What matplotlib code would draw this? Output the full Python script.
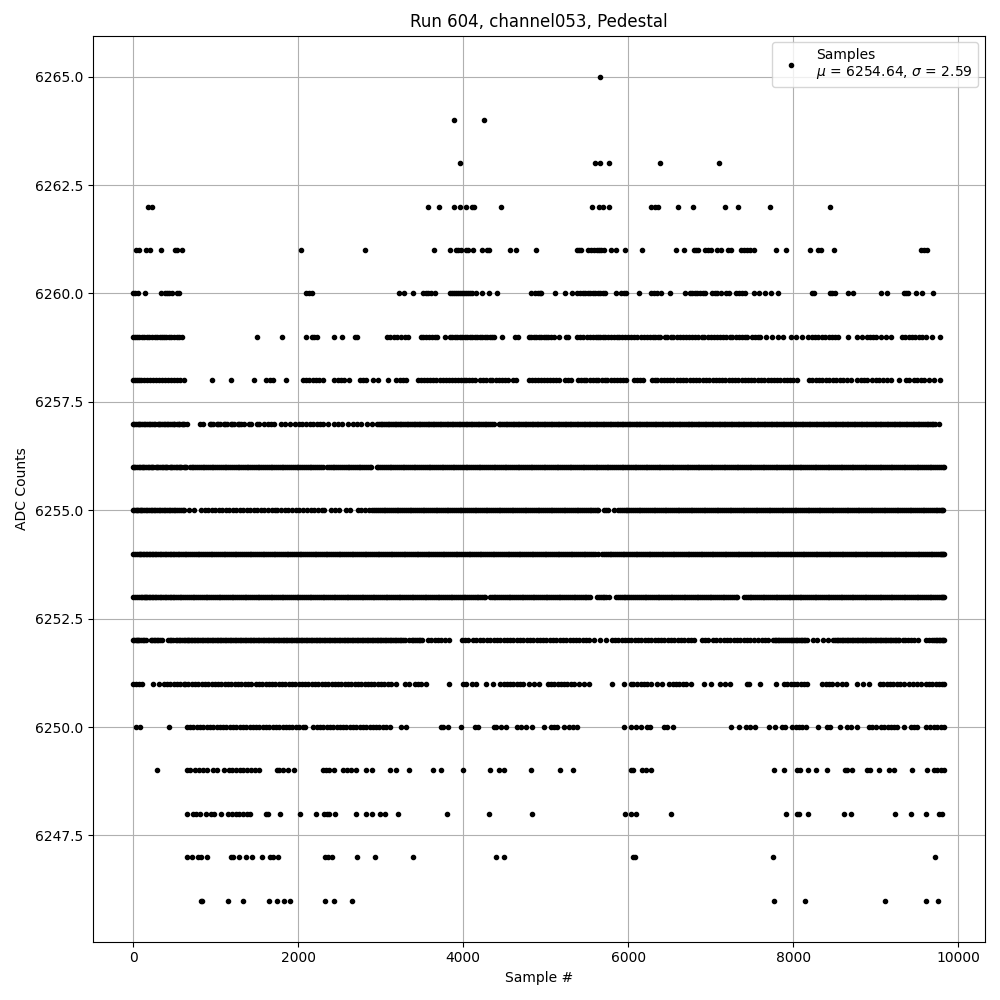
import matplotlib
matplotlib.use("Agg")
import matplotlib.pyplot as plt

s6265 = [5660]
s6264 = [3890, 4256]
s6263 = [3964, 5600, 5660, 5770, 6388, 7103]
s6262 = [174, 227, 3574, 3708, 3890, 3964, 4040, 4105, 4130, 4463, 5568, 5650, 5697, 5770, 6283, 6331, 6364, 6606,
         6788, 7176, 7333, 7721, 8448]
s6261 = [36, 65, 150, 203, 337, 503, 531, 596, 2040, 2807, 3647, 3842, 3911, 3940, 3968, 4033, 4053, 4122, 4231,
         4292, 4308, 4572, 4637, 4889, 5378, 5402, 5426, 5515, 5556, 5588, 5620, 5648, 5677, 5709, 5790, 5855, 5964,
         6170, 6582, 6679, 6800, 6824, 6848, 6933, 6970, 7010, 7083, 7131, 7212, 7244, 7366, 7406, 7446, 7479, 7527,
         7794, 7915, 8206, 8303, 8335, 8497, 9547, 9587, 9628]
s6260 = [0, 24, 53, 138, 337, 381, 410, 438, 471, 531, 552, 2093, 2126, 2167, 3221, 3282, 3392, 3513, 3546, 3578,
         3611, 3656, 3838, 3862, 3886, 3910, 3935, 3960, 3985, 4010, 4035, 4060, 4085, 4105, 4153, 4226, 4317, 4415,
         4823, 4876, 4904, 4929, 4942, 5119, 5236, 5325, 5386, 5418, 5450, 5480, 5510, 5540, 5570, 5600, 5630, 5660,
         5690, 5720, 5850, 5911, 5952, 5972, 6137, 6275, 6315, 6356, 6396, 6505, 6691, 6747, 6780, 6808, 6840, 6873,
         6905, 6937, 7018, 7050, 7083, 7123, 7184, 7224, 7309, 7345, 7378, 7422, 7527, 7588, 7660, 7737, 7814, 8234,
         8254, 8448, 8477, 8505, 8666, 8731, 9062, 9143, 9345, 9373, 9398, 9491, 9563, 9701]
s6259 = [0, 25, 50, 75, 105, 130, 165, 190, 225, 260, 290, 320, 345, 375, 400, 430, 460, 490, 525, 560, 590, 1505,
         1798, 2090, 2167, 2196, 2224, 2430, 2527, 2683, 2715, 3075, 3116, 3156, 3197, 3250, 3290, 3335, 3483, 3515,
         3550, 3585, 3620, 3655, 3678, 3780, 3840, 3870, 3900, 3930, 3960, 3990, 4020, 4050, 4080, 4110, 4140, 4170,
         4200, 4230, 4260, 4290, 4320, 4350, 4380, 4467, 4630, 4660, 4795, 4825, 4855, 4885, 4915, 4945, 4975, 5000,
         5024, 5060, 5100, 5164, 5244, 5273, 5386, 5420, 5455, 5507, 5540, 5575, 5605, 5630, 5665, 5695, 5725, 5760,
         5790, 5825, 5860, 5890, 5925, 5960, 5995, 6030, 6073, 6110, 6160, 6190, 6234, 6270, 6300, 6330, 6360, 6385,
         6444, 6477, 6515, 6550, 6590, 6630, 6665, 6700, 6740, 6775, 6815, 6850, 6890, 6925, 6965, 7000, 7040, 7080,
         7115, 7155, 7190, 7230, 7265, 7305, 7340, 7380, 7415, 7446, 7507, 7540, 7570, 7600, 7670, 7750, 7818, 7883,
         7972, 8032, 8113, 8182, 8225, 8265, 8305, 8345, 8390, 8430, 8470, 8510, 8550, 8662, 8780, 8840, 8893, 8930,
         8970, 9010, 9062, 9123, 9184, 9325, 9360, 9400, 9440, 9480, 9525, 9565, 9610, 9689, 9781]
s6258 = [0, 25, 50, 75, 100, 125, 166, 200, 235, 275, 310, 350, 385, 420, 460, 495, 530, 570, 613, 957, 1189, 1469,
         1615, 1656, 1697, 1847, 2054, 2095, 2135, 2175, 2215, 2255, 2298, 2440, 2480, 2520, 2560, 2622, 2744, 2780,
         2825, 2907, 2968, 3090, 3191, 3230, 3270, 3305, 3455, 3490, 3525, 3565, 3600, 3640, 3675, 3715, 3750, 3790,
         3825, 3865, 3900, 3935, 3970, 4005, 4040, 4075, 4110, 4145, 4205, 4240, 4280, 4320, 4355, 4395, 4430, 4465,
         4505, 4545, 4600, 4640, 4800, 4835, 4870, 4905, 4945, 4980, 5015, 5050, 5090, 5130, 5165, 5235, 5275, 5310,
         5390, 5425, 5460, 5495, 5535, 5570, 5605, 5640, 5680, 5715, 5750, 5790, 5825, 5865, 5900, 5940, 5975, 6070,
         6110, 6150, 6185, 6285, 6320, 6355, 6395, 6435, 6470, 6510, 6550, 6590, 6630, 6670, 6705, 6745, 6785, 6825,
         6865, 6905, 6945, 6985, 7025, 7060, 7100, 7140, 7180, 7220, 7260, 7295, 7335, 7375, 7415, 7455, 7495, 7530,
         7570, 7610, 7650, 7690, 7730, 7770, 7805, 7845, 7885, 7925, 7965, 8005, 8052, 8194, 8235, 8275, 8315, 8355,
         8400, 8440, 8480, 8520, 8565, 8605, 8650, 8699, 8780, 8820, 8860, 8900, 8961, 9000, 9045, 9090, 9135, 9184,
         9285, 9365, 9407, 9466, 9505, 9545, 9587, 9648, 9709, 9781]
s6257 = [0, 15, 30, 55, 70, 85, 110, 125, 145, 170, 190, 205, 230, 250, 265, 295, 310, 320, 355, 370, 385, 410, 425,
         440, 475, 490, 500, 535, 550, 560, 590, 605, 620, 650, 815, 850, 925, 945, 965, 1010, 1030, 1050, 1095, 1115,
         1135, 1180, 1200, 1220, 1265, 1285, 1305, 1345, 1400, 1430, 1495, 1530, 1590, 1630, 1670, 1710, 1795, 1840,
         1905, 1965, 2010, 2050, 2095, 2140, 2185, 2230, 2270, 2305, 2360, 2435, 2480, 2535, 2600, 2670, 2715, 2760,
         2830, 2890, 2955, 2978, 3000, 3020, 3040, 3062, 3085, 3105, 3125, 3148, 3170, 3190, 3210, 3230, 3250, 3272,
         3295, 3315, 3335, 3358, 3380, 3400, 3420, 3440, 3460, 3482, 3505, 3525, 3545, 3568, 3590, 3610, 3630, 3650,
         3670, 3692, 3715, 3735, 3755, 3778, 3800, 3820, 3840, 3860, 3880, 3902, 3925, 3945, 3965, 3988, 4010, 4030,
         4050, 4070, 4090, 4112, 4135, 4155, 4175, 4198, 4220, 4240, 4260, 4280, 4300, 4322, 4345, 4377, 4430, 4450,
         4470, 4492, 4515, 4535, 4555, 4578, 4600, 4620, 4640, 4660, 4680, 4702, 4725, 4745, 4765, 4788, 4810, 4830,
         4850, 4870, 4890, 4912, 4935, 4955, 4975, 4998, 5020, 5040, 5060, 5080, 5100, 5122, 5145, 5165, 5185, 5208,
         5230, 5250, 5270, 5290, 5310, 5332, 5355, 5375, 5395, 5418, 5440, 5460, 5480, 5500, 5520, 5542, 5565, 5585,
         5605, 5628, 5650, 5670, 5690, 5710, 5730, 5752, 5775, 5795, 5815, 5838, 5860, 5880, 5900, 5920, 5940, 5962,
         5985, 6005, 6025, 6048, 6070, 6090, 6110, 6130, 6150, 6172, 6195, 6215, 6235, 6258, 6280, 6300, 6320, 6340,
         6360, 6382, 6405, 6425, 6445, 6468, 6490, 6510, 6530, 6550, 6570, 6592, 6615, 6635, 6655, 6678, 6700, 6720,
         6740, 6760, 6780, 6802, 6825, 6845, 6865, 6888, 6910, 6930, 6950, 6970, 6990, 7012, 7035, 7055, 7075, 7098,
         7120, 7140, 7160, 7180, 7200, 7222, 7245, 7265, 7285, 7308, 7330, 7350, 7370, 7390, 7410, 7432, 7455, 7475,
         7495, 7518, 7540, 7560, 7580, 7600, 7620, 7642, 7665, 7685, 7705, 7728, 7750, 7770, 7790, 7810, 7830, 7852,
         7875, 7895, 7915, 7938, 7960, 7980, 8000, 8020, 8040, 8062, 8085, 8105, 8125, 8148, 8170, 8190, 8210, 8230,
         8250, 8272, 8295, 8315, 8335, 8358, 8380, 8400, 8420, 8440, 8460, 8482, 8505, 8525, 8545, 8568, 8590, 8610,
         8630, 8650, 8670, 8692, 8715, 8735, 8755, 8778, 8800, 8820, 8840, 8860, 8880, 8902, 8925, 8945, 8965, 8988,
         9010, 9030, 9050, 9070, 9090, 9112, 9135, 9155, 9175, 9198, 9220, 9240, 9260, 9280, 9300, 9322, 9345, 9365,
         9385, 9408, 9430, 9450, 9470, 9490, 9510, 9532, 9555, 9575, 9595, 9618, 9640, 9660, 9680, 9702, 9725, 9770]
s6256 = [0, 12, 25, 50, 65, 80, 105, 120, 135, 160, 175, 190, 215, 230, 245, 275, 290, 300, 330, 345, 360, 385, 400,
         415, 440, 455, 470, 500, 515, 525, 555, 570, 585, 610, 625, 640, 685, 708, 730, 752, 775, 798, 820, 840, 860,
         885, 905, 928, 950, 972, 995, 1018, 1040, 1062, 1085, 1108, 1130, 1152, 1175, 1198, 1220, 1242, 1265, 1288,
         1310, 1332, 1355, 1375, 1395, 1418, 1440, 1462, 1485, 1508, 1530, 1552, 1575, 1598, 1620, 1642, 1665, 1688,
         1710, 1732, 1755, 1778, 1800, 1822, 1845, 1868, 1890, 1912, 1935, 1958, 1980, 2002, 2025, 2048, 2070, 2092,
         2115, 2138, 2160, 2182, 2205, 2228, 2250, 2272, 2295, 2350, 2372, 2395, 2418, 2440, 2462, 2485, 2508, 2530,
         2552, 2575, 2598, 2620, 2642, 2665, 2688, 2710, 2732, 2755, 2778, 2800, 2822, 2845, 2865, 2885, 2950, 2972,
         2995, 3018, 3040, 3062, 3085, 3108, 3130, 3152, 3175, 3198, 3220, 3242, 3265, 3288, 3310, 3332, 3355, 3378,
         3400, 3422, 3445, 3468, 3490, 3512, 3535, 3558, 3580, 3602, 3625, 3648, 3670, 3692, 3715, 3738, 3760, 3782,
         3805, 3828, 3850, 3872, 3895, 3918, 3940, 3962, 3985, 4008, 4030, 4052, 4075, 4098, 4120, 4142, 4165, 4188,
         4210, 4232, 4255, 4278, 4300, 4322, 4345, 4368, 4390, 4412, 4435, 4458, 4480, 4502, 4525, 4548, 4570, 4592,
         4615, 4638, 4660, 4682, 4705, 4728, 4750, 4772, 4795, 4818, 4840, 4862, 4885, 4908, 4930, 4952, 4975, 4998,
         5020, 5042, 5065, 5088, 5110, 5132, 5155, 5178, 5200, 5222, 5245, 5268, 5290, 5312, 5335, 5358, 5380, 5402,
         5425, 5448, 5470, 5492, 5515, 5538, 5560, 5582, 5605, 5628, 5650, 5672, 5695, 5718, 5740, 5762, 5785, 5808,
         5830, 5852, 5875, 5898, 5920, 5942, 5965, 5988, 6010, 6032, 6055, 6078, 6100, 6122, 6145, 6168, 6190, 6212,
         6235, 6258, 6280, 6302, 6325, 6348, 6370, 6392, 6415, 6438, 6460, 6482, 6505, 6528, 6550, 6572, 6595, 6618,
         6640, 6662, 6685, 6708, 6730, 6752, 6775, 6798, 6820, 6842, 6865, 6888, 6910, 6932, 6955, 6978, 7000, 7022,
         7045, 7068, 7090, 7112, 7135, 7158, 7180, 7202, 7225, 7248, 7270, 7292, 7315, 7338, 7360, 7382, 7405, 7428,
         7450, 7472, 7495, 7518, 7540, 7562, 7585, 7608, 7630, 7652, 7675, 7698, 7720, 7742, 7765, 7788, 7810, 7832,
         7855, 7878, 7900, 7922, 7945, 7968, 7990, 8012, 8035, 8058, 8080, 8102, 8125, 8148, 8170, 8192, 8215, 8238,
         8260, 8282, 8305, 8328, 8350, 8372, 8395, 8418, 8440, 8462, 8485, 8508, 8530, 8552, 8575, 8598, 8620, 8642,
         8665, 8688, 8710, 8732, 8755, 8778, 8800, 8822, 8845, 8868, 8890, 8912, 8935, 8958, 8980, 9002, 9025, 9048,
         9070, 9092, 9115, 9138, 9160, 9182, 9205, 9228, 9250, 9272, 9295, 9318, 9340, 9362, 9385, 9408, 9430, 9452,
         9475, 9498, 9520, 9542, 9565, 9588, 9610, 9632, 9655, 9678, 9700, 9722, 9745, 9768, 9790, 9812, 9835]
s6255 = [0, 15, 30, 45, 60, 78, 95, 112, 130, 150, 170, 190, 210, 230, 250, 270, 290, 310, 330, 350, 370, 390, 410,
         430, 450, 470, 490, 510, 530, 552, 575, 598, 620, 680, 735, 820, 865, 905, 950, 995, 1035, 1080, 1125, 1165,
         1210, 1250, 1295, 1335, 1380, 1420, 1465, 1505, 1550, 1590, 1630, 1680, 1715, 1745, 1790, 1835, 1880, 1925,
         1970, 2015, 2060, 2105, 2150, 2195, 2240, 2285, 2318, 2400, 2445, 2490, 2580, 2625, 2720, 2765, 2810, 2855,
         2900, 2922, 2945, 2968, 2990, 3012, 3035, 3058, 3080, 3102, 3125, 3148, 3170, 3192, 3215, 3238, 3260, 3282,
         3305, 3328, 3350, 3372, 3395, 3418, 3440, 3462, 3485, 3508, 3530, 3552, 3575, 3598, 3620, 3642, 3665, 3688,
         3710, 3732, 3755, 3778, 3800, 3822, 3845, 3868, 3890, 3912, 3935, 3958, 3980, 4002, 4025, 4048, 4070, 4092,
         4115, 4138, 4160, 4182, 4205, 4228, 4250, 4272, 4295, 4318, 4340, 4362, 4385, 4408, 4430, 4452, 4475, 4498,
         4520, 4542, 4565, 4588, 4610, 4632, 4655, 4678, 4700, 4722, 4745, 4768, 4790, 4812, 4835, 4858, 4880, 4902,
         4925, 4948, 4970, 4992, 5015, 5038, 5060, 5082, 5105, 5128, 5150, 5172, 5195, 5218, 5240, 5262, 5285, 5308,
         5330, 5352, 5375, 5398, 5420, 5442, 5465, 5488, 5510, 5532, 5555, 5578, 5600, 5625, 5640, 5710, 5732, 5755,
         5830, 5880, 5902, 5925, 5948, 5970, 5992, 6015, 6038, 6060, 6082, 6105, 6128, 6150, 6172, 6195, 6218, 6240,
         6262, 6285, 6308, 6330, 6352, 6375, 6398, 6420, 6442, 6465, 6488, 6510, 6532, 6555, 6578, 6600, 6622, 6645,
         6668, 6690, 6712, 6735, 6758, 6780, 6802, 6825, 6848, 6870, 6892, 6915, 6938, 6960, 6982, 7005, 7028, 7050,
         7072, 7095, 7118, 7140, 7162, 7185, 7208, 7230, 7252, 7275, 7298, 7320, 7342, 7365, 7388, 7410, 7432, 7455,
         7478, 7500, 7522, 7545, 7568, 7590, 7612, 7635, 7658, 7680, 7702, 7725, 7748, 7770, 7792, 7815, 7838, 7860,
         7882, 7905, 7928, 7950, 7972, 7995, 8018, 8040, 8062, 8085, 8108, 8130, 8152, 8175, 8198, 8220, 8242, 8265,
         8288, 8310, 8332, 8355, 8378, 8400, 8422, 8445, 8468, 8490, 8512, 8535, 8558, 8580, 8602, 8625, 8648, 8670,
         8692, 8715, 8738, 8760, 8782, 8805, 8828, 8850, 8872, 8895, 8918, 8940, 8962, 8985, 9008, 9030, 9052, 9075,
         9098, 9120, 9142, 9165, 9188, 9210, 9232, 9255, 9278, 9300, 9322, 9345, 9368, 9390, 9412, 9435, 9458, 9480,
         9502, 9525, 9548, 9570, 9592, 9615, 9638, 9660, 9682, 9705, 9728, 9750, 9770, 9790, 9805, 9820]
s6254 = [0, 20, 45, 70, 85, 100, 118, 135, 152, 170, 188, 205, 222, 240, 260, 280, 300, 320, 340, 360, 380, 400, 420,
         440, 460, 480, 500, 520, 540, 560, 580, 600, 622, 645, 668, 690, 712, 735, 758, 780, 802, 825, 848, 870, 892,
         915, 938, 960, 982, 1005, 1028, 1050, 1072, 1095, 1118, 1140, 1162, 1185, 1208, 1230, 1252, 1275, 1298, 1320,
         1342, 1365, 1388, 1410, 1432, 1455, 1478, 1500, 1522, 1545, 1568, 1590, 1612, 1635, 1658, 1680, 1702, 1725,
         1748, 1770, 1792, 1815, 1838, 1860, 1882, 1905, 1928, 1950, 1972, 1995, 2018, 2040, 2062, 2085, 2108, 2130,
         2152, 2175, 2198, 2220, 2242, 2265, 2288, 2310, 2332, 2355, 2378, 2400, 2422, 2445, 2468, 2490, 2512, 2535,
         2558, 2580, 2602, 2625, 2648, 2670, 2692, 2715, 2738, 2760, 2782, 2805, 2828, 2850, 2872, 2895, 2918, 2940,
         2962, 2985, 3008, 3030, 3052, 3075, 3098, 3120, 3142, 3165, 3188, 3210, 3232, 3255, 3278, 3300, 3322, 3345,
         3368, 3390, 3412, 3435, 3458, 3480, 3502, 3525, 3548, 3570, 3592, 3615, 3638, 3660, 3682, 3705, 3728, 3750,
         3772, 3795, 3818, 3840, 3862, 3885, 3908, 3930, 3952, 3975, 3998, 4020, 4042, 4065, 4088, 4110, 4132, 4155,
         4178, 4200, 4222, 4245, 4268, 4290, 4312, 4335, 4358, 4380, 4402, 4425, 4448, 4470, 4492, 4515, 4538, 4560,
         4582, 4605, 4628, 4650, 4672, 4695, 4718, 4740, 4762, 4785, 4808, 4830, 4852, 4875, 4898, 4920, 4942, 4965,
         4988, 5010, 5032, 5055, 5078, 5100, 5122, 5145, 5168, 5190, 5212, 5235, 5258, 5280, 5302, 5325, 5348, 5370,
         5392, 5415, 5438, 5460, 5482, 5505, 5528, 5550, 5572, 5595, 5635, 5685, 5708, 5730, 5752, 5775, 5798, 5820,
         5842, 5865, 5888, 5910, 5932, 5955, 5978, 6000, 6022, 6045, 6068, 6090, 6112, 6135, 6158, 6180, 6202, 6225,
         6248, 6270, 6292, 6315, 6338, 6360, 6382, 6405, 6428, 6450, 6472, 6495, 6518, 6540, 6562, 6585, 6608, 6630,
         6652, 6675, 6698, 6720, 6742, 6765, 6788, 6810, 6832, 6855, 6878, 6900, 6922, 6945, 6968, 6990, 7012, 7035,
         7058, 7080, 7102, 7125, 7148, 7170, 7192, 7215, 7238, 7260, 7282, 7305, 7328, 7350, 7372, 7395, 7418, 7440,
         7462, 7485, 7508, 7530, 7552, 7575, 7598, 7620, 7642, 7665, 7688, 7710, 7732, 7755, 7778, 7800, 7822, 7845,
         7868, 7890, 7912, 7935, 7958, 7980, 8002, 8025, 8048, 8070, 8092, 8115, 8138, 8160, 8182, 8205, 8228, 8250,
         8272, 8295, 8318, 8340, 8362, 8385, 8408, 8430, 8452, 8475, 8498, 8520, 8542, 8565, 8588, 8610, 8632, 8655,
         8678, 8700, 8722, 8745, 8768, 8790, 8812, 8835, 8858, 8880, 8902, 8925, 8948, 8970, 8992, 9015, 9038, 9060,
         9082, 9105, 9128, 9150, 9172, 9195, 9218, 9240, 9262, 9285, 9308, 9330, 9352, 9375, 9398, 9420, 9442, 9465,
         9488, 9510, 9532, 9555, 9578, 9600, 9622, 9645, 9668, 9690, 9712, 9735, 9758, 9780, 9795, 9810, 9822, 9835]
s6253 = [0, 20, 45, 70, 95, 110, 125, 140, 155, 172, 190, 208, 225, 242, 260, 280, 300, 320, 340, 360, 380, 400, 420,
         440, 460, 480, 500, 520, 540, 562, 585, 608, 630, 652, 675, 698, 720, 742, 765, 788, 810, 832, 855, 878, 900,
         922, 945, 968, 990, 1012, 1035, 1058, 1080, 1102, 1125, 1148, 1170, 1192, 1215, 1238, 1260, 1282, 1305, 1328,
         1350, 1372, 1395, 1418, 1440, 1462, 1485, 1508, 1530, 1552, 1575, 1598, 1620, 1642, 1665, 1688, 1710, 1732,
         1755, 1778, 1800, 1822, 1845, 1868, 1890, 1912, 1935, 1958, 1980, 2002, 2025, 2048, 2070, 2092, 2115, 2138,
         2160, 2182, 2205, 2228, 2250, 2272, 2295, 2318, 2340, 2362, 2385, 2408, 2430, 2452, 2475, 2498, 2520, 2542,
         2565, 2588, 2610, 2632, 2655, 2678, 2700, 2722, 2745, 2768, 2790, 2812, 2835, 2858, 2880, 2902, 2925, 2948,
         2970, 2992, 3015, 3038, 3060, 3082, 3105, 3128, 3150, 3172, 3195, 3218, 3240, 3262, 3285, 3308, 3330, 3352,
         3375, 3398, 3420, 3442, 3465, 3488, 3510, 3532, 3555, 3578, 3600, 3622, 3645, 3668, 3690, 3712, 3735, 3758,
         3780, 3802, 3825, 3848, 3870, 3892, 3915, 3938, 3960, 3982, 4005, 4028, 4050, 4072, 4095, 4118, 4140, 4162,
         4185, 4208, 4230, 4250, 4270, 4325, 4348, 4370, 4392, 4415, 4438, 4460, 4482, 4505, 4528, 4550, 4572, 4595,
         4618, 4640, 4662, 4685, 4708, 4730, 4752, 4775, 4798, 4820, 4842, 4865, 4888, 4910, 4932, 4955, 4978, 5000,
         5022, 5045, 5068, 5090, 5112, 5135, 5158, 5180, 5202, 5225, 5248, 5270, 5292, 5315, 5338, 5360, 5382, 5405,
         5428, 5450, 5472, 5495, 5518, 5540, 5620, 5645, 5668, 5690, 5712, 5735, 5765, 5850, 5875, 5900, 5922, 5945,
         5968, 5990, 6012, 6035, 6065, 6088, 6110, 6132, 6155, 6178, 6200, 6222, 6245, 6268, 6290, 6312, 6335, 6358,
         6380, 6402, 6425, 6448, 6470, 6492, 6515, 6538, 6560, 6582, 6605, 6628, 6650, 6672, 6695, 6718, 6740, 6762,
         6785, 6808, 6830, 6852, 6875, 6898, 6920, 6942, 6965, 6988, 7010, 7032, 7055, 7078, 7100, 7122, 7145, 7168,
         7190, 7212, 7235, 7258, 7280, 7302, 7325, 7405, 7428, 7450, 7472, 7495, 7518, 7540, 7562, 7585, 7608, 7630,
         7652, 7675, 7698, 7720, 7742, 7765, 7788, 7810, 7832, 7855, 7878, 7900, 7922, 7945, 7968, 7990, 8012, 8035,
         8058, 8080, 8102, 8125, 8148, 8170, 8192, 8215, 8238, 8260, 8282, 8305, 8328, 8350, 8372, 8395, 8418, 8440,
         8462, 8485, 8508, 8530, 8552, 8575, 8598, 8620, 8642, 8665, 8688, 8710, 8732, 8755, 8778, 8800, 8822, 8845,
         8868, 8890, 8912, 8935, 8958, 8980, 9002, 9025, 9048, 9070, 9092, 9115, 9138, 9160, 9182, 9205, 9228, 9250,
         9272, 9295, 9318, 9340, 9362, 9385, 9408, 9430, 9452, 9475, 9498, 9520, 9542, 9565, 9588, 9610, 9632, 9655,
         9678, 9700, 9722, 9745, 9768, 9790, 9810, 9822, 9835]
s6252 = [0, 15, 30, 45, 60, 75, 90, 120, 135, 150, 215, 232, 250, 268, 285, 302, 320, 350, 425, 445, 460, 480, 515,
         532, 550, 570, 590, 610, 630, 648, 665, 682, 700, 718, 735, 752, 770, 790, 810, 830, 850, 870, 890, 910, 930,
         950, 970, 990, 1010, 1030, 1050, 1070, 1090, 1110, 1130, 1150, 1170, 1190, 1210, 1230, 1250, 1270, 1290, 1310,
         1330, 1350, 1370, 1390, 1410, 1430, 1450, 1470, 1490, 1510, 1530, 1550, 1570, 1590, 1610, 1630, 1650, 1670,
         1690, 1710, 1730, 1750, 1770, 1790, 1810, 1830, 1850, 1870, 1890, 1910, 1930, 1950, 1970, 1990, 2010, 2030,
         2050, 2070, 2090, 2110, 2130, 2150, 2170, 2190, 2210, 2230, 2250, 2270, 2290, 2310, 2330, 2350, 2370, 2390,
         2410, 2430, 2450, 2470, 2490, 2510, 2530, 2550, 2570, 2590, 2610, 2630, 2650, 2670, 2690, 2710, 2730, 2750,
         2770, 2790, 2810, 2830, 2850, 2870, 2890, 2910, 2930, 2950, 2970, 2990, 3010, 3030, 3050, 3070, 3090, 3110,
         3130, 3150, 3170, 3190, 3210, 3230, 3250, 3270, 3290, 3340, 3375, 3395, 3415, 3440, 3460, 3480, 3500, 3575,
         3615, 3655, 3695, 3735, 3780, 3830, 3985, 4020, 4060, 4120, 4160, 4200, 4240, 4285, 4330, 4370, 4410, 4450,
         4490, 4530, 4570, 4610, 4650, 4690, 4730, 4770, 4810, 4850, 4890, 4930, 4970, 5010, 5050, 5090, 5130, 5170,
         5210, 5250, 5290, 5330, 5370, 5410, 5450, 5490, 5530, 5590, 5660, 5730, 5800, 5835, 5880, 5920, 5960, 6000,
         6040, 6080, 6120, 6160, 6200, 6240, 6280, 6320, 6360, 6400, 6440, 6480, 6520, 6560, 6600, 6640, 6680, 6720,
         6760, 6800, 6890, 6930, 6970, 7030, 7070, 7110, 7160, 7200, 7240, 7280, 7320, 7360, 7400, 7440, 7480, 7530,
         7580, 7625, 7665, 7700, 7755, 7775, 7795, 7815, 7835, 7858, 7880, 7905, 7930, 7950, 7970, 7990, 8010, 8030,
         8050, 8070, 8090, 8110, 8130, 8150, 8170, 8240, 8290, 8360, 8420, 8490, 8510, 8530, 8550, 8570, 8590, 8610,
         8630, 8650, 8670, 8690, 8710, 8730, 8750, 8770, 8790, 8810, 8830, 8850, 8870, 8890, 8910, 8930, 8950, 8970,
         8990, 9010, 9030, 9050, 9070, 9090, 9110, 9130, 9150, 9170, 9190, 9210, 9230, 9250, 9270, 9290, 9330, 9360,
         9390, 9430, 9470, 9520, 9610, 9650, 9690, 9710, 9730, 9750, 9770, 9785, 9800, 9818, 9835]
s6251 = [0, 35, 70, 105, 240, 316, 370, 410, 450, 490, 530, 570, 613, 633, 670, 710, 750, 790, 830, 870, 910, 950,
         990, 1030, 1070, 1110, 1150, 1190, 1230, 1270, 1310, 1350, 1390, 1430, 1486, 1527, 1565, 1605, 1645, 1685,
         1725, 1765, 1805, 1845, 1885, 1925, 1965, 2005, 2045, 2085, 2125, 2165, 2205, 2245, 2285, 2325, 2365, 2405,
         2445, 2485, 2525, 2565, 2605, 2645, 2685, 2725, 2765, 2805, 2845, 2885, 2925, 2965, 3005, 3045, 3085, 3125,
         3190, 3292, 3345, 3414, 3455, 3495, 3548, 3832, 4000, 4040, 4105, 4157, 4271, 4360, 4450, 4490, 4530, 4570,
         4610, 4650, 4690, 4730, 4795, 4856, 4917, 5026, 5065, 5105, 5145, 5185, 5225, 5265, 5305, 5345, 5406, 5467,
         5527, 5806, 5952, 6032, 6065, 6105, 6153, 6195, 6235, 6275, 6356, 6416, 6497, 6540, 6580, 6620, 6660, 6700,
         6760, 6921, 7002, 7115, 7172, 7236, 7438, 7465, 7600, 7794, 7891, 7930, 7970, 8010, 8050, 8090, 8130, 8173,
         8355, 8395, 8435, 8477, 8537, 8590, 8638, 8780, 8845, 8925, 9054, 9095, 9135, 9175, 9215, 9255, 9300, 9345,
         9406, 9450, 9500, 9547, 9608, 9650, 9690, 9730, 9770, 9805, 9835]
s6250 = [32, 85, 434, 653, 690, 730, 770, 810, 850, 890, 930, 970, 1010, 1050, 1090, 1130, 1170, 1210, 1250, 1290,
         1330, 1370, 1410, 1450, 1490, 1530, 1570, 1610, 1650, 1690, 1730, 1770, 1810, 1850, 1890, 1930, 1970, 2010,
         2054, 2078, 2184, 2225, 2265, 2305, 2345, 2385, 2425, 2465, 2505, 2545, 2585, 2625, 2665, 2705, 2745, 2785,
         2825, 2865, 2905, 2945, 2985, 3025, 3065, 3108, 3252, 3305, 3727, 3760, 3812, 3979, 4145, 4178, 4369, 4401,
         4458, 4523, 4653, 4700, 4767, 4835, 4978, 5060, 5100, 5140, 5224, 5285, 5330, 5378, 5952, 6032, 6093, 6153,
         6226, 6267, 6436, 6477, 6550, 7248, 7349, 7430, 7479, 7539, 7709, 7782, 7870, 7899, 7992, 8030, 8070, 8110,
         8153, 8303, 8408, 8448, 8569, 8650, 8707, 8775, 8921, 8960, 9000, 9062, 9103, 9145, 9185, 9225, 9264, 9345,
         9426, 9465, 9507, 9608, 9660, 9709, 9749, 9790, 9835]
s6249 = [288, 654, 694, 747, 796, 844, 897, 970, 1019, 1104, 1161, 1202, 1242, 1291, 1332, 1384, 1425, 1478, 1527,
         1738, 1770, 1811, 1872, 1953, 2298, 2339, 2379, 2432, 2541, 2590, 2643, 2704, 2818, 2895, 3118, 3191, 3345,
         3638, 3735, 4003, 4320, 4429, 4490, 4819, 5176, 5333, 6032, 6057, 6170, 6218, 6275, 7770, 7891, 8053, 8081,
         8182, 8279, 8412, 8626, 8658, 8719, 8893, 8933, 9038, 9163, 9224, 9446, 9628, 9709, 9749, 9790, 9830]
s6248 = [654, 723, 763, 804, 885, 942, 978, 1060, 1153, 1194, 1242, 1283, 1332, 1384, 1417, 1608, 1636, 1782, 2018,
         2213, 2318, 2347, 2379, 2444, 2700, 2826, 2895, 2996, 3049, 3211, 3808, 4308, 4831, 5964, 6032, 6101, 6521,
         7915, 8045, 8077, 8182, 8618, 8707, 9236, 9430, 9612, 9769, 9810]
s6247 = [654, 714, 788, 816, 897, 1181, 1214, 1287, 1372, 1445, 1559, 1656, 1689, 1750, 2326, 2359, 2412, 2712, 2931,
         3394, 4393, 4490, 6060, 6085, 7757, 9721]
s6246 = [818, 828, 1153, 1336, 1652, 1738, 1831, 1900, 2322, 2432, 2651, 7770, 8145, 9115, 9612, 9757]

levels = [6265, 6264, 6263, 6262, 6261, 6260, 6259, 6258, 6257, 6256, 6255, 6254, 6253, 6252, 6251, 6250, 6249, 6248,
          6247, 6246]
samples = [s6265, s6264, s6263, s6262, s6261, s6260, s6259, s6258, s6257, s6256, s6255, s6254, s6253, s6252, s6251,
           s6250, s6249, s6248, s6247, s6246]

x = []
y = []
for lev, xs in zip(levels, samples):
    x.extend(xs)
    y.extend([lev] * len(xs))

fig, ax = plt.subplots(figsize=(10, 10), dpi=100)
ax.plot(x, y, '.', color='black', label="Samples\n$\\mu$ = 6254.64, $\\sigma$ = 2.59")
ax.set_title("Run 604, channel053, Pedestal")
ax.set_xlabel("Sample #")
ax.set_ylabel("ADC Counts")
ax.grid(True)
ax.legend(loc='upper right')
fig.tight_layout()
fig.subplots_adjust(top=0.9645)
fig.savefig("out.png", dpi=100)
